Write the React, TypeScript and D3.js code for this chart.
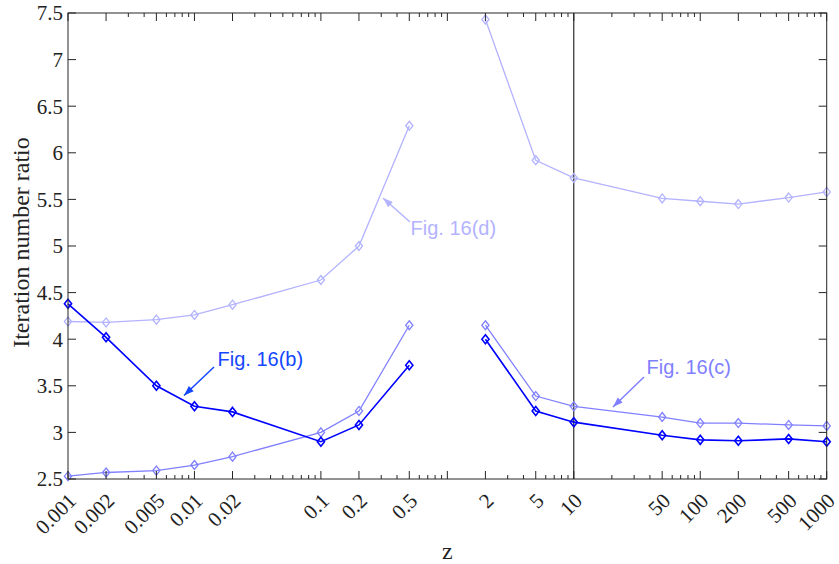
import * as d3 from "d3";

// z values (log axis), gap between 0.5 and 2
const zValues = [0.001, 0.002, 0.005, 0.01, 0.02, 0.1, 0.2, 0.5, 2, 5, 10, 50, 100, 200, 500, 1000];
const zTickLabels = ["0.001", "0.002", "0.005", "0.01", "0.02", "0.1", "0.2", "0.5", "2", "5", "10", "50", "100", "200", "500", "1000"];
const yTicks = [2.5, 3, 3.5, 4, 4.5, 5, 5.5, 6, 6.5, 7, 7.5];

// Fig. 16(b), 16(c), 16(d) iteration number ratios
const ratioB = [4.38, 4.02, 3.50, 3.28, 3.22, 2.90, 3.08, 3.72, 4.00, 3.23, 3.11, 2.97, 2.92, 2.91, 2.93, 2.90];
const ratioC = [2.53, 2.57, 2.59, 2.65, 2.74, 3.00, 3.23, 4.15, 4.15, 3.39, 3.28, 3.165, 3.10, 3.10, 3.08, 3.07];
const ratioD = [4.19, 4.18, 4.21, 4.26, 4.37, 4.635, 5.00, 6.29, 7.43, 5.92, 5.73, 5.51, 5.48, 5.45, 5.52, 5.58];

const W = 839;
const H = 564;
const left = 68, right = 826.7, top = 13, bottom = 479;

const series = [
  { name: "d", values: ratioD, color: "#b3b3ff", width: 1.3 },
  { name: "c", values: ratioC, color: "#8080ff", width: 1.3 },
  { name: "b", values: ratioB, color: "#0000ff", width: 1.6 },
];

// annotation text + arrow (from -> to), in pixels
const notes = [
  { label: "Fig. 16(b)", color: "#1447ff", tx: 217.5, ty: 366, from: [214, 367], to: [184, 395.5] },
  { label: "Fig. 16(d)", color: "#b3b3ff", tx: 410.5, ty: 235, from: [410, 222], to: [383, 198] },
  { label: "Fig. 16(c)", color: "#8080ff", tx: 646.5, ty: 374, from: [644, 377], to: [613, 407] },
];

const axisColor = "#262626";
const serif = "'Liberation Serif', 'Times New Roman', serif";

export default function App() {
  const x = d3.scaleLog().domain([0.001, 1000]).range([left, right]);
  const y = d3.scaleLinear().domain([2.5, 7.5]).range([bottom, top]);

  // minor ticks: every integer multiple in each decade, not already major
  const minor: number[] = [];
  for (let e = -3; e < 3; e++) {
    for (let m = 1; m < 10; m++) {
      const v = +(m * Math.pow(10, e)).toPrecision(3);
      if (!zValues.includes(v) && v !== 1) minor.push(v);
    }
  }
  const majorX = [...zValues, 1];

  const line = d3.line<[number, number]>()
    .x(d => x(d[0]))
    .y(d => y(d[1]));

  const diamond = (cx: number, cy: number) =>
    `M${cx},${cy - 4.5}L${cx + 3.6},${cy}L${cx},${cy + 4.5}L${cx - 3.6},${cy}Z`;

  const arrowHead = (from: number[], to: number[]) => {
    const ang = Math.atan2(to[1] - from[1], to[0] - from[0]);
    const len = 10, half = 3.5;
    const bx = to[0] - len * Math.cos(ang), by = to[1] - len * Math.sin(ang);
    const px = -Math.sin(ang) * half, py = Math.cos(ang) * half;
    return `M${to[0]},${to[1]}L${bx + px},${by + py}L${bx - px},${by - py}Z`;
  };

  return (
    <svg width={W} height={H} style={{ position: "absolute", left: 0, top: 0, background: "#fff" }}>
      {/* vertical reference line at z = 10 */}
      <line x1={x(10)} x2={x(10)} y1={top} y2={bottom} stroke="#000" strokeWidth={1} />

      {/* series */}
      {series.map(s => {
        const pts = zValues.map((z, i) => [z, s.values[i]] as [number, number]);
        const lo = pts.filter(p => p[0] < 1);
        const hi = pts.filter(p => p[0] > 1);
        return (
          <g key={s.name}>
            <path d={line(lo) || ""} fill="none" stroke={s.color} strokeWidth={s.width} />
            <path d={line(hi) || ""} fill="none" stroke={s.color} strokeWidth={s.width} />
            {pts.map((p, i) => (
              <path key={i} d={diamond(x(p[0]), y(p[1]))} fill="none" stroke={s.color} strokeWidth={s.width} />
            ))}
          </g>
        );
      })}

      {/* box */}
      <rect x={left} y={top} width={right - left} height={bottom - top} fill="none" stroke={axisColor} strokeWidth={1} />

      {/* x ticks: bottom and top */}
      {majorX.map(v => (
        <g key={"M" + v}>
          <line x1={x(v)} x2={x(v)} y1={bottom} y2={bottom - 8} stroke={axisColor} />
          <line x1={x(v)} x2={x(v)} y1={top} y2={top + 8} stroke={axisColor} />
        </g>
      ))}
      {minor.map(v => (
        <g key={"m" + v}>
          <line x1={x(v)} x2={x(v)} y1={bottom} y2={bottom - 4} stroke={axisColor} />
          <line x1={x(v)} x2={x(v)} y1={top} y2={top + 4} stroke={axisColor} />
        </g>
      ))}

      {/* y ticks: left and right */}
      {yTicks.map(v => (
        <g key={"y" + v}>
          <line x1={left} x2={left + 8} y1={y(v)} y2={y(v)} stroke={axisColor} />
          <line x1={right} x2={right - 8} y1={y(v)} y2={y(v)} stroke={axisColor} />
          <text x={left - 5} y={y(v)} dy="0.35em" textAnchor="end"
            fontFamily={serif} fontSize={21} fill="#222">{v}</text>
        </g>
      ))}

      {/* rotated x tick labels */}
      {zValues.map((v, i) => (
        <text key={"xl" + v} transform={`translate(${x(v) + 9.5},${502}) rotate(-45)`} textAnchor="end"
          fontFamily={serif} fontSize={21} fill="#222">
          {zTickLabels[i]}
        </text>
      ))}

      {/* axis titles */}
      <text x={(left + right) / 2} y={559} textAnchor="middle"
        fontFamily={serif} fontSize={24} fill="#222">z</text>
      <text transform={`translate(29,242.5) rotate(-90)`} textAnchor="middle"
        fontFamily={serif} fontSize={24} fill="#222">Iteration number ratio</text>

      {/* annotations */}
      {notes.map(n => (
        <g key={n.label}>
          <line x1={n.from[0]} y1={n.from[1]} x2={n.to[0]} y2={n.to[1]} stroke={n.color} strokeWidth={1.5} />
          <path d={arrowHead(n.from, n.to)} fill={n.color} />
          <text x={n.tx} y={n.ty} fontFamily="'Liberation Sans', Arial, sans-serif" fontSize={20} fill={n.color}>{n.label}</text>
        </g>
      ))}
    </svg>
  );
}
